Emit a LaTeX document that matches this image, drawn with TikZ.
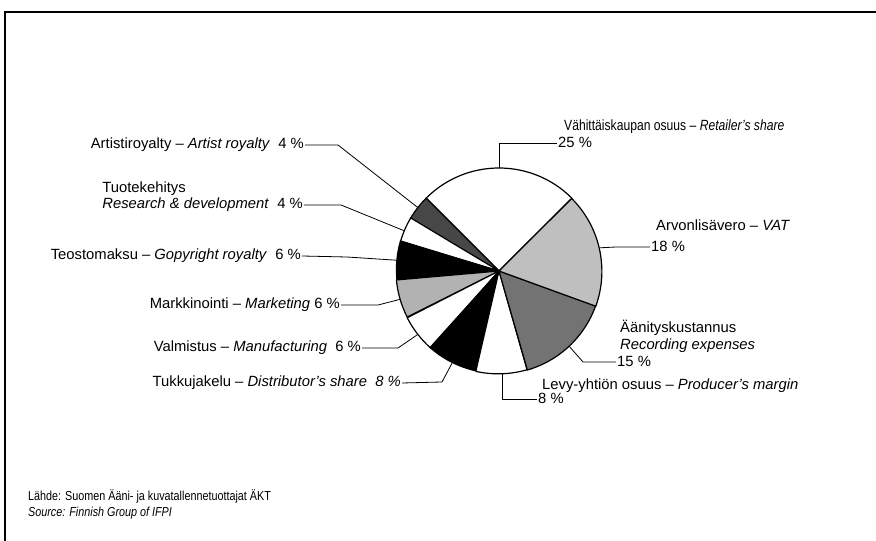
\documentclass[tikz,border=0pt]{standalone}
\usepackage{fontspec}
\setmainfont{Liberation Sans}
\usetikzlibrary{positioning}

\begin{document}
\begin{tikzpicture}[
  x=1pt, y=1pt,
  lbl/.style={font=\fontsize{14.8}{17}\selectfont, inner sep=1pt},
  src/.style={font=\fontsize{13}{15}\selectfont, inner sep=0pt},
  slice/.style={draw, line width=1.2pt, line join=round},
  leader/.style={draw, line width=0.8pt}
]
\useasboundingbox (0,0) rectangle (876,541);

% Frame
\draw[line width=1.5pt] (5,0) |- (876,529);

% Pie centre and rim
\node[circle, minimum size=206, inner sep=0pt, outer sep=0pt] (pie) at (499,270) {};

% Slices (counter-clockwise from Retailer's share)
\filldraw[slice, fill=white] (pie.center) -- (pie.45) arc[start angle=45, end angle=135, radius=103] -- cycle;
\filldraw[slice, fill=black!72] (pie.center) -- (pie.135) arc[start angle=135, end angle=149.4, radius=103] -- cycle;
\filldraw[slice, fill=white] (pie.center) -- (pie.149.4) arc[start angle=149.4, end angle=163.8, radius=103] -- cycle;
\filldraw[slice, fill=black] (pie.center) -- (pie.163.8) arc[start angle=163.8, end angle=185.4, radius=103] -- cycle;
\filldraw[slice, fill=black!30] (pie.center) -- (pie.185.4) arc[start angle=185.4, end angle=207, radius=103] -- cycle;
\filldraw[slice, fill=white] (pie.center) -- (pie.207) arc[start angle=207, end angle=228.6, radius=103] -- cycle;
\filldraw[slice, fill=black] (pie.center) -- (pie.228.6) arc[start angle=228.6, end angle=257.4, radius=103] -- cycle;
\filldraw[slice, fill=white] (pie.center) -- (pie.257.4) arc[start angle=257.4, end angle=286.2, radius=103] -- cycle;
\filldraw[slice, fill=black!55] (pie.center) -- (pie.286.2) arc[start angle=286.2, end angle=340.2, radius=103] -- cycle;
\filldraw[slice, fill=black!25] (pie.center) -- (pie.340.2) arc[start angle=340.2, end angle=405, radius=103] -- cycle;

% Labels (left side)
\node[lbl, anchor=east] (art) at (305,396) {Artistiroyalty -- \textit{Artist royalty}~~4~\%};
\node[lbl, anchor=east] (rd) at (304,336) {\textit{Research \& development}~~4~\%};
\node[lbl, anchor=base west] (rd-fi) at ([yshift=16]rd.base west) {Tuotekehitys};
\node[lbl, anchor=east] (gop) at (302,285) {Teostomaksu -- \textit{Gopyright royalty}~~6~\%};
\node[lbl, anchor=east] (mark) at (341,236) {Markkinointi -- \textit{Marketing} 6~\%};
\node[lbl, anchor=east] (manu) at (362,193) {Valmistus -- \textit{Manufacturing}~~6~\%};
\node[lbl, anchor=east] (dist) at (402,158) {Tukkujakelu -- \textit{Distributor's share~~8~\%}};

% Labels (right side)
\node[lbl, anchor=base west] (ret) at (563,410) {\scalebox{0.82}[1]{Vähittäiskaupan osuus -- \textit{Retailer's share}}};
\node[lbl, anchor=base west] (ret-pct) at (557,393) {25~\%};
\node[lbl, anchor=base west] (vat) at (655,310) {Arvonlisävero -- \textit{VAT}};
\node[lbl, anchor=base west] (vat-pct) at (650,289) {18~\%};
\node[lbl, anchor=base west] (rec-fi) at (619,208) {Äänityskustannus};
\node[lbl, anchor=base west] (rec) at (619,191) {\textit{Recording expenses}};
\node[lbl, anchor=base west] (rec-pct) at (616,174) {15~\%};
\node[lbl, anchor=base west] (prod) at (541,151) {Levy-yhtiön osuus -- \textit{Producer's margin}};
\node[lbl, anchor=base west] (prod-pct) at (537,137) {8~\%};

% Source
\node[src, anchor=base west] (src-fi) at (28,40) {\scalebox{0.83}[1]{Lähde: Suomen Ääni- ja kuvatallennetuottajat ÄKT}};
\node[src, anchor=base west] (src-en) at (28,24) {\scalebox{0.83}[1]{\textit{Source: Finnish Group of IFPI}}};

% Leader lines
\draw[leader] (art.east) -- ++(33,0) -- (pie.142);
\draw[leader] (rd.east) -- ++(37,0) -- (pie.157);
\draw[leader] (gop.east) -- ++(45,-1) -- (pie.174.6);
\draw[leader] (mark.east) -- ++(37,0) -- (pie.196);
\draw[leader] (manu.east) -- ++(36,0) -- (pie.218);
\draw[leader] (dist.east) -- ++(40,1) -- (pie.243);
\draw[leader] (pie.90) |- (ret-pct.west);
\draw[leader] (vat-pct.west) -- ++(-32,0) -- (pie.13);
\draw[leader] (rec-pct.west) -- ++(-33,0) -- (pie.313);
\draw[leader] (pie.272) |- (prod-pct.west);

\end{tikzpicture}
\end{document}
